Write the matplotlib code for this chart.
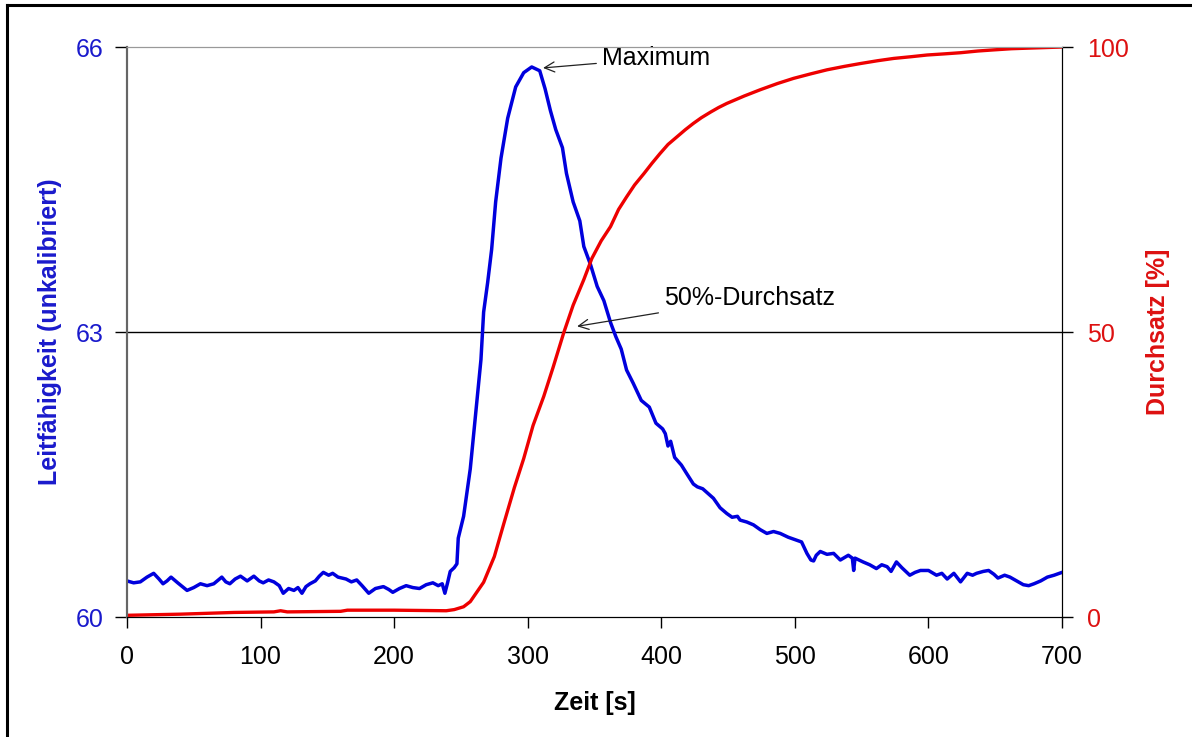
import matplotlib.pyplot as plt
from matplotlib.lines import Line2D

plt.rcParams['font.family'] = ['Liberation Sans', 'DejaVu Sans']

#--------------------------------
# data
#--------------------------------
# conductivity (left axis)
zeit_lf = [0, 5, 10, 15, 20, 24, 27, 30, 33, 38, 45, 50, 55, 60, 65, 71, 74, 77, 81, 85,
           90, 95, 99, 102, 106, 110, 114, 117, 121, 125, 128, 131, 134, 137, 141, 144, 147,
           151, 154, 158, 164, 168, 172, 176, 181, 186, 192, 196, 199, 204, 209, 214, 219,
           224, 229, 233, 236, 238, 240, 242, 245, 247, 248, 252, 257, 261, 265, 267, 270,
           273, 276, 280, 285, 291, 297, 303, 306, 309, 313, 317, 321, 326, 329, 334, 339,
           342, 347, 352, 357, 362, 366, 370, 374, 379, 385, 391, 396, 401, 403, 405, 407,
           410, 415, 419, 424, 427, 431, 435, 439, 444, 449, 453, 457, 459, 464, 469, 474,
           479, 484, 489, 495, 501, 505, 509, 512, 514, 516, 519, 524, 529, 534, 540, 543,
           544, 545, 551, 556, 561, 565, 569, 572, 576, 580, 586, 590, 594, 600, 606, 610,
           614, 619, 624, 629, 633, 636, 641, 645, 649, 652, 657, 661, 666, 671, 675, 679,
           684, 689, 694, 700]
leitf = [60.38, 60.36, 60.37, 60.42, 60.46, 60.40, 60.35, 60.38, 60.42, 60.36, 60.28, 60.31,
         60.35, 60.33, 60.35, 60.42, 60.37, 60.35, 60.40, 60.43, 60.38, 60.43, 60.38, 60.36,
         60.39, 60.37, 60.33, 60.25, 60.30, 60.28, 60.31, 60.25, 60.32, 60.35, 60.38, 60.43,
         60.47, 60.44, 60.46, 60.42, 60.40, 60.37, 60.39, 60.33, 60.25, 60.30, 60.32, 60.29,
         60.26, 60.30, 60.33, 60.31, 60.30, 60.34, 60.36, 60.33, 60.35, 60.25, 60.36, 60.48,
         60.52, 60.56, 60.83, 61.06, 61.56, 62.13, 62.71, 63.21, 63.52, 63.87, 64.37, 64.83,
         65.25, 65.58, 65.73, 65.79, 65.77, 65.75, 65.56, 65.33, 65.13, 64.94, 64.67, 64.37,
         64.17, 63.90, 63.71, 63.48, 63.33, 63.10, 62.95, 62.82, 62.60, 62.46, 62.28, 62.21,
         62.04, 61.98, 61.93, 61.80, 61.85, 61.68, 61.60, 61.51, 61.40, 61.37, 61.35, 61.30,
         61.25, 61.15, 61.09, 61.05, 61.06, 61.02, 61.00, 60.97, 60.92, 60.88, 60.90, 60.88,
         60.84, 60.81, 60.79, 60.67, 60.60, 60.59, 60.65, 60.69, 60.66, 60.67, 60.60, 60.65,
         60.62, 60.49, 60.62, 60.58, 60.55, 60.51, 60.55, 60.53, 60.48, 60.58, 60.52, 60.44,
         60.47, 60.49, 60.49, 60.44, 60.46, 60.40, 60.46, 60.37, 60.46, 60.44, 60.46, 60.48,
         60.49, 60.45, 60.41, 60.44, 60.42, 60.38, 60.34, 60.33, 60.35, 60.38, 60.42, 60.44,
         60.47]

# throughput (right axis)
zeit_ds = [0, 40, 80, 110, 115, 120, 160, 165, 200, 239, 245, 252, 257, 262, 267, 275, 282,
           290, 297, 304, 312, 319, 327, 334, 342, 348, 355, 362, 368, 374, 380, 387, 393,
           399, 405, 412, 418, 424, 430, 437, 443, 449, 462, 474, 487, 499, 512, 524, 537,
           549, 562, 574, 587, 599, 612, 624, 637, 649, 662, 674, 687, 700]
durchsatz = [0.3, 0.5, 0.8, 0.9, 1.1, 0.9, 1.0, 1.2, 1.2, 1.1, 1.3, 1.8, 2.7, 4.4, 6.1, 10.6,
             16.3, 22.7, 27.8, 33.6, 38.7, 43.8, 49.9, 54.7, 59.2, 62.9, 66.0, 68.5, 71.5,
             73.7, 75.8, 77.8, 79.6, 81.3, 82.9, 84.3, 85.5, 86.6, 87.6, 88.6, 89.4, 90.1,
             91.4, 92.5, 93.6, 94.5, 95.3, 96.0, 96.6, 97.1, 97.6, 98.0, 98.3, 98.6, 98.8,
             99.0, 99.3, 99.5, 99.7, 99.8, 99.9, 100.0]

x_ticks = [0, 100, 200, 300, 400, 500, 600, 700]
lf_ticks = [60, 63, 66]
ds_ticks = [0, 50, 100]

blau = '#0000dd'
rot = '#ee0000'
fs = 18

#--------------------------------
# figure
#--------------------------------
fig = plt.figure(figsize=(11.92, 7.37), dpi=100)
ax = fig.add_axes([0.1065, 0.1628, 0.7845, 0.7734])
ax2 = ax.twinx()

ax.axhline(63, color='black', lw=1.0, zorder=1)
ax.plot(zeit_lf, leitf, color=blau, lw=2.5, zorder=3)
ax2.plot(zeit_ds, durchsatz, color=rot, lw=2.4, zorder=2)

ax.set_xlim(0, 700)
ax.set_ylim(60, 66)
ax2.set_ylim(0, 100)

ax.set_xticks(x_ticks)
ax.set_yticks(lf_ticks)
ax2.set_yticks(ds_ticks)

ax.tick_params(axis='x', direction='out', length=8, width=1, labelsize=fs, pad=12)
ax.tick_params(axis='y', direction='out', length=9, width=1, labelsize=fs,
               labelcolor='#1a1acc', pad=8)
ax2.tick_params(axis='y', direction='out', length=8, width=1, labelsize=fs,
                labelcolor='#dd1111', pad=10)

for a in (ax, ax2):
    a.spines['top'].set_color('#999999')
    a.spines['left'].set_color('#666666')
    a.spines['bottom'].set_color('black')
    a.spines['right'].set_color('black')
    a.spines['left'].set_linewidth(1.5)

ax.set_xlabel('Zeit [s]', fontsize=fs, fontweight='bold', labelpad=16)
ax.set_ylabel('Leitfähigkeit (unkalibriert)', fontsize=fs, fontweight='bold',
              color='#1a1acc', labelpad=10)
ax2.set_ylabel('Durchsatz [%]', fontsize=fs, fontweight='bold', color='#dd1111',
               labelpad=12)

arrow = dict(arrowstyle='->', color='#222222', lw=0.9, shrinkA=2, shrinkB=0)
ax.annotate('Maximum', xy=(311.5, 65.78), xytext=(355.5, 65.88), fontsize=fs,
            va='center', ha='left', arrowprops=arrow)
ax.annotate('50%-Durchsatz', xy=(337, 63.06), xytext=(402, 63.36), fontsize=fs,
            va='center', ha='left', arrowprops=arrow)

# frame around the picture (only left and top edges visible)
fig.add_artist(Line2D([7 / 1192, 7 / 1192], [0, 1 - 5 / 737], color='black', lw=2.2,
                      transform=fig.transFigure))
fig.add_artist(Line2D([7 / 1192, 1], [1 - 5 / 737, 1 - 5 / 737], color='black', lw=2.2,
                      transform=fig.transFigure))

fig.savefig('out.png', dpi=100)
